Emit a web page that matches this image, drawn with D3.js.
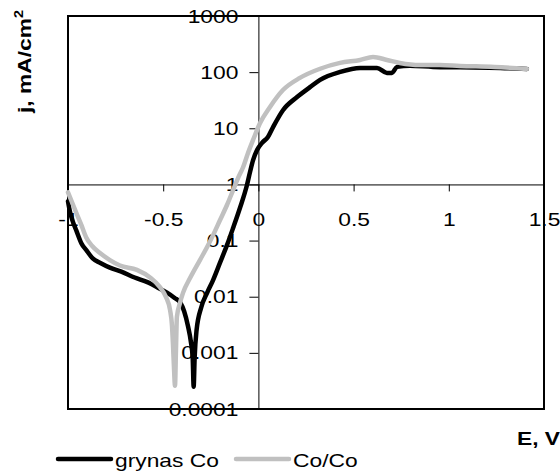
<!DOCTYPE html>
<html>
<head>
<meta charset="utf-8">
<script src="https://cdn.jsdelivr.net/npm/d3@7"></script>
<style>
  body { margin: 0; background: #fff; }
  svg { display: block; font-family: "Liberation Sans", Arial, sans-serif; }
</style>
</head>
<body>
<div id="chart"></div>
<script>
// series: potential E (V) and current density j (mA/cm2)
var seriesNames = ["grynas Co", "Co/Co"];
var seriesColors = ["#000000", "#c0c0c0"];

var blackE = [-1.0, -0.99, -0.975, -0.956, -0.93, -0.9, -0.87, -0.83, -0.78, -0.72, -0.65, -0.58, -0.52, -0.48,
  -0.44, -0.41, -0.39, -0.37, -0.355, -0.345, -0.34, -0.335, -0.325, -0.3, -0.27, -0.238, -0.202, -0.165,
  -0.133, -0.097, -0.06, -0.044, -0.028, -0.007, 0.019, 0.05, 0.077, 0.129, 0.203, 0.271, 0.324, 0.429,
  0.534, 0.623, 0.675, 0.701, 0.728, 0.796, 0.917, 1.059, 1.27, 1.41];
var blackJ = [0.5, 0.33, 0.22, 0.15, 0.09, 0.065, 0.048, 0.04, 0.033, 0.028, 0.022, 0.018, 0.014, 0.0118,
  0.0095, 0.0078, 0.0055, 0.003, 0.0016, 0.0008, 0.00025, 0.0008, 0.0025, 0.0065, 0.0116, 0.0198, 0.04, 0.083,
  0.167, 0.38, 0.975, 1.66, 2.7, 4.1, 5.5, 7.0, 10.5, 21, 36, 54, 73, 101,
  119, 119, 97, 97, 124, 130, 124, 122, 119, 114];

var greyE = [-1.0, -0.956, -0.93, -0.905, -0.873, -0.832, -0.78, -0.727, -0.638, -0.569, -0.517, -0.485,
  -0.464, -0.454, -0.449, -0.444, -0.438, -0.433, -0.428, -0.412, -0.396, -0.359, -0.307, -0.27, -0.238,
  -0.202, -0.165, -0.133, -0.107, -0.081, -0.055, -0.028, 0.008, 0.061, 0.129, 0.218, 0.324, 0.429, 0.534,
  0.602, 0.675, 0.743, 0.848, 0.953, 1.059, 1.24, 1.41];
var greyJ = [0.72, 0.31, 0.19, 0.115, 0.08, 0.06, 0.045, 0.036, 0.03, 0.022, 0.0148, 0.0098,
  0.0058, 0.0031, 0.0015, 0.00061, 0.00026, 0.0011, 0.0044, 0.0077, 0.0117, 0.0215, 0.045, 0.076, 0.125,
  0.23, 0.43, 0.79, 1.3, 2.0, 3.6, 6.2, 12.3, 24, 48, 79, 115, 146, 165,
  186, 165, 146, 134, 134, 129, 124, 114];

var xTicks = [-1, -0.5, 0, 0.5, 1, 1.5];
var yTicks = [0.0001, 0.001, 0.01, 0.1, 1, 10, 100, 1000];
var yTickLabels = ["0.0001", "0.001", "0.01", "0.1", "1", "10", "100", "1000"];

var width = 560, height = 476;
var plotL = 68, plotR = 544, plotT = 16, plotB = 409;

var svg = d3.select("#chart").append("svg")
  .attr("width", width)
  .attr("height", height);

var x = d3.scaleLinear().domain([-1, 1.5]).range([plotL, plotR]);
var y = d3.scaleLog().domain([0.0001, 1000]).range([plotB, plotT]);

// stretch text sideways like the picture
function stretch(sel) {
  sel.each(function() {
    var w = this.getComputedTextLength();
    d3.select(this).attr("textLength", w * 1.2).attr("lengthAdjust", "spacingAndGlyphs");
  });
}

// plot area frame
svg.append("rect")
  .attr("x", plotL)
  .attr("y", plotT)
  .attr("width", plotR - plotL)
  .attr("height", plotB - plotT)
  .attr("fill", "none")
  .attr("stroke", "#000")
  .attr("stroke-width", 2);

var xAxis = svg.append("g")
  .attr("transform", "translate(0," + y(1) + ")")
  .call(d3.axisBottom(x).tickValues(xTicks).tickSize(7).tickSizeOuter(0).tickPadding(21)
    .tickFormat(function(d) { return String(d); }));

var yAxis = svg.append("g")
  .attr("transform", "translate(" + x(0) + ",0)")
  .call(d3.axisLeft(y).tickValues(yTicks).tickSize(9).tickSizeOuter(0).tickPadding(11)
    .tickFormat(function(d, i) { return yTickLabels[i]; }));

svg.selectAll(".tick text")
  .attr("font-family", "Liberation Sans, Arial, sans-serif")
  .attr("font-size", 19)
  .attr("fill", "#000");
svg.selectAll(".domain, .tick line").attr("stroke", "#000");
stretch(svg.selectAll(".tick text"));

var line = d3.line()
  .curve(d3.curveMonotoneX)
  .x(function(d) { return x(d[0]); })
  .y(function(d) { return y(d[1]); });

var blackData = d3.zip(blackE, blackJ);
var greyData = d3.zip(greyE, greyJ);

// series order as in excel: black first, grey over it
svg.append("path")
  .datum(blackData)
  .attr("d", line)
  .attr("fill", "none")
  .attr("stroke", seriesColors[0])
  .attr("stroke-width", 4.5)
  .attr("stroke-linejoin", "round")
  .attr("stroke-linecap", "round");

svg.append("path")
  .datum(greyData)
  .attr("d", line)
  .attr("fill", "none")
  .attr("stroke", seriesColors[1])
  .attr("stroke-width", 4.5)
  .attr("stroke-linejoin", "round")
  .attr("stroke-linecap", "round");

// axis titles
svg.append("g")
  .attr("transform", "translate(31,113) rotate(-90) scale(1.2,1)")
  .append("text")
  .attr("font-size", 19)
  .attr("font-weight", "bold")
  .text("j, mA/cm")
  .append("tspan")
  .attr("dy", -8)
  .attr("font-size", 12)
  .text("2");

svg.append("g")
  .attr("transform", "translate(517,445) scale(1.2,1)")
  .append("text")
  .attr("font-size", 19)
  .attr("font-weight", "bold")
  .text("E, V");

// legend
var legendX = [58, 236];
var legend = svg.selectAll(".legend")
  .data(seriesNames)
  .enter().append("g")
  .attr("class", "legend");

legend.append("line")
  .attr("x1", function(d, i) { return legendX[i]; })
  .attr("x2", function(d, i) { return legendX[i] + 53; })
  .attr("y1", 459)
  .attr("y2", 459)
  .attr("stroke", function(d, i) { return seriesColors[i]; })
  .attr("stroke-width", 4.5)
  .attr("stroke-linecap", "round");

legend.append("text")
  .attr("x", function(d, i) { return legendX[i] + 57; })
  .attr("y", 467)
  .attr("font-size", 19)
  .text(function(d) { return d; })
  .call(stretch);
</script>
</body>
</html>
